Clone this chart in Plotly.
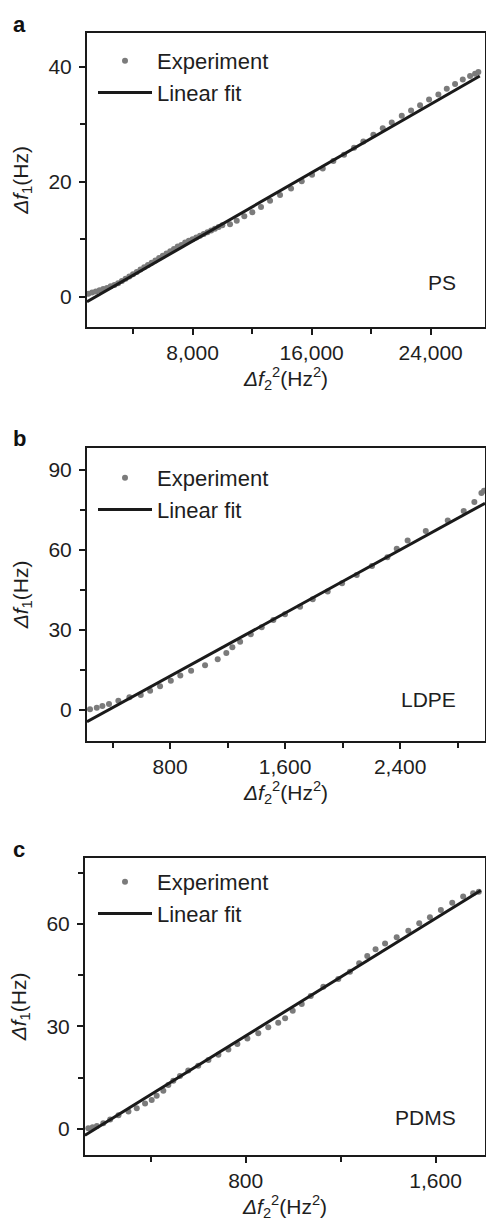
import plotly.graph_objects as go

# ---------------- data ----------------
ps_x = [1000, 1250, 1500, 1750, 2000, 2250, 2500, 2750, 3000, 3250, 3500, 3750, 4000, 4250,
        4500, 4750, 5000, 5250, 5500, 5750, 6000, 6250, 6500, 6750, 7000, 7250, 7500, 7750,
        8000, 8250, 8500, 8750, 9000, 9250, 9500, 9750, 10000, 10517, 10968, 11478, 12016,
        12601, 13206, 13878, 14617, 15336, 16028, 16747, 17460, 18179, 18851, 19476, 20148,
        20780, 21385, 22057, 22682, 23287, 23892, 24516, 25081, 25638, 26156, 26646, 26983, 27204]
ps_y = [0.5, 0.7, 0.9, 1.1, 1.3, 1.5, 1.8, 2.0, 2.3, 2.7, 3.1, 3.5, 3.9, 4.3,
        4.7, 5.1, 5.5, 5.9, 6.3, 6.7, 7.1, 7.5, 7.9, 8.3, 8.7, 9.0, 9.4, 9.7,
        10.0, 10.3, 10.6, 10.9, 11.2, 11.5, 11.8, 12.1, 12.4, 12.6, 13.2, 14.0, 14.7,
        15.6, 16.7, 17.7, 18.8, 20.1, 21.2, 22.3, 23.6, 24.7, 25.9, 27.0, 28.2,
        29.3, 30.3, 31.5, 32.4, 33.3, 34.3, 35.2, 36.2, 37.0, 37.8, 38.4, 38.8, 39.1]
ps_fit_x = [910, 27300]
ps_fit_y = [-0.9, 38.4]

ldpe_x = [243, 290, 329, 375, 440, 517, 596, 661, 730, 805, 871, 946, 1043, 1131, 1191, 1233,
          1287, 1361, 1437, 1518, 1599, 1704, 1792, 1896, 1996, 2098, 2204, 2311, 2376, 2452,
          2578, 2731, 2842, 2916, 2965, 2983]
ldpe_y = [0.3, 0.9, 1.5, 2.3, 3.5, 4.8, 5.6, 7.2, 8.9, 11.0, 12.9, 14.7, 16.8, 19.0, 21.4, 23.5,
          25.6, 28.4, 31.0, 33.7, 35.9, 38.7, 41.5, 44.4, 47.5, 50.6, 54.0, 57.3, 60.4, 63.5,
          67.1, 71.0, 74.6, 78.0, 81.3, 82.2]
ldpe_fit_x = [222, 2990]
ldpe_fit_y = [-4.4, 77.5]

pdms_x = [137, 155, 173, 200, 229, 264, 306, 341, 376, 404, 425, 453, 474, 495, 523, 558, 600,
          643, 685, 727, 765, 807, 853, 895, 937, 966, 998, 1036, 1074, 1127, 1190, 1239, 1278,
          1312, 1347, 1387, 1436, 1485, 1531, 1576, 1622, 1670, 1716, 1758, 1782]
pdms_y = [0.2, 0.5, 0.9, 1.7, 2.8, 4.0, 5.1, 6.1, 7.5, 8.5, 9.7, 11.2, 12.9, 14.1, 15.5, 17.1, 18.5,
          20.2, 21.7, 23.3, 24.9, 26.5, 28.0, 29.8, 31.1, 32.4, 34.6, 36.6, 38.9, 41.6, 43.9, 46.0, 48.5,
          50.6, 52.6, 54.3, 56.1, 58.0, 60.2, 62.0, 64.1, 66.2, 68.0, 69.0, 69.4]
pdms_fit_x = [123, 1790]
pdms_fit_y = [-1.8, 69.8]

panel_letters = ["a", "b", "c"]
materials = ["PS", "LDPE", "PDMS"]

# ---------------- layout helpers ----------------
W, H = 486, 1221
FONT = "Liberation Sans, Arial, Helvetica, sans-serif"
DOT = "#7b7b7b"
TXT = "#1e1e1e"

def xd(px0, px1):
    return [px0 / W, px1 / W]

def yd(top, bottom):
    return [1 - bottom / H, 1 - top / H]

panels = [
    dict(x=ps_x, y=ps_y, fx=ps_fit_x, fy=ps_fit_y, xdom=xd(87, 485), ydom=yd(33, 327),
         xr=[907, 27650], yr=[-5.3, 45.9], xdt=8000, xmin=4000, ydt=20, ymin=10),
    dict(x=ldpe_x, y=ldpe_y, fx=ldpe_fit_x, fy=ldpe_fit_y, xdom=xd(87, 485), ydom=yd(448, 741),
         xr=[222, 2990], yr=[-11.6, 98.2], xdt=800, xmin=400, ydt=30, ymin=15),
    dict(x=pdms_x, y=pdms_y, fx=pdms_fit_x, fy=pdms_fit_y, xdom=xd(85, 485), ydom=yd(858, 1155),
         xr=[123, 1808], yr=[-7.6, 79.3], xdt=800, xmin=400, ydt=30, ymin=15),
]

fig = go.Figure()
legend_tops = [40, 457, 861]
tops = [33, 448, 858]
material_y = [283, 699, 1117]
layout = dict(width=W, height=H, margin=dict(l=0, r=0, t=0, b=0, autoexpand=False),
              paper_bgcolor="white", plot_bgcolor="white",
              font=dict(family=FONT, size=21, color=TXT))
annotations = []

for i, p in enumerate(panels):
    n = "" if i == 0 else str(i + 1)
    leg = "legend" if i == 0 else f"legend{i + 1}"
    fig.add_trace(go.Scatter(x=p["x"], y=p["y"], mode="markers", name="Experiment",
                             marker=dict(color=DOT, size=6), xaxis="x" + n, yaxis="y" + n,
                             legend=leg, cliponaxis=True))
    fig.add_trace(go.Scatter(x=p["fx"], y=p["fy"], mode="lines", name="Linear fit",
                             line=dict(color="#1a1a1a", width=3), xaxis="x" + n, yaxis="y" + n,
                             legend=leg))
    axis_common = dict(showline=True, linecolor="#1a1a1a", linewidth=2, mirror=True,
                       ticks="outside", ticklen=6, tickwidth=1.5, tickcolor="#1a1a1a",
                       showgrid=False, zeroline=False, automargin=False,
                       tickfont=dict(family=FONT, size=21, color=TXT))
    layout["xaxis" + n] = dict(axis_common, domain=p["xdom"], range=p["xr"], anchor="y" + n,
                               tick0=0, dtick=p["xdt"], tickformat=",",
                               minor=dict(tick0=0, dtick=p["xmin"], ticks="outside", ticklen=5,
                                          tickwidth=1.5, tickcolor="#1a1a1a"),
                               title=dict(text="<i>Δf</i><sub>2</sub><sup>2</sup>(Hz<sup>2</sup>)",
                                          font=dict(family=FONT, size=21, color=TXT),
                                          standoff=4))
    layout["yaxis" + n] = dict(axis_common, domain=p["ydom"], range=p["yr"], anchor="x" + n,
                               tick0=0, dtick=p["ydt"], ticklabelstandoff=3,
                               minor=dict(tick0=0, dtick=p["ymin"], ticks="outside", ticklen=5,
                                          tickwidth=1.5, tickcolor="#1a1a1a"),
                               title=dict(text="<i>Δf</i><sub>1</sub>(Hz)",
                                          font=dict(family=FONT, size=21, color=TXT),
                                          standoff=14))
    layout[leg] = dict(x=93 / W, y=1 - legend_tops[i] / H, xanchor="left", yanchor="top",
                       bgcolor="rgba(0,0,0,0)", font=dict(family=FONT, size=22, color=TXT),
                       itemwidth=54, tracegroupgap=0)
    annotations.append(dict(text=f"<b>{panel_letters[i]}</b>", xref="paper", yref="paper",
                            x=11 / W, y=1 - (tops[i] - 9) / H, xanchor="left", yanchor="middle",
                            showarrow=False, font=dict(family=FONT, size=22, color="#111")))
    annotations.append(dict(text=materials[i], xref="paper", yref="paper",
                            x=458 / W, y=1 - material_y[i] / H, xanchor="right", yanchor="middle",
                            showarrow=False, font=dict(family=FONT, size=21, color=TXT)))

layout["annotations"] = annotations
layout["showlegend"] = True
fig.update_layout(**layout)
fig.write_html("out.html", config={"displayModeBar": False},
               post_script="document.body.style.margin='0';document.body.style.padding='0';")
